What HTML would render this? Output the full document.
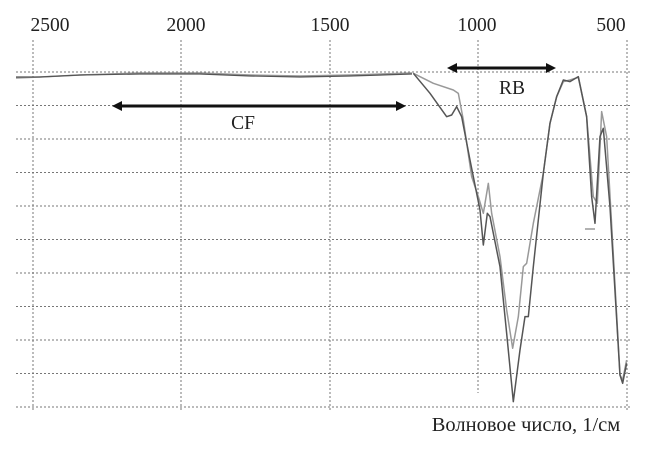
<!DOCTYPE html>
<html><head><meta charset="utf-8"><style>
body{margin:0;background:#fff}
svg text{font-family:"Liberation Serif",serif;fill:#222}
</style></head><body>
<svg width="656" height="452" viewBox="0 0 656 452" xmlns="http://www.w3.org/2000/svg">
<g stroke="#777" stroke-width="1" stroke-dasharray="2,2" fill="none">
<line x1="16" y1="72" x2="630" y2="72"/>
<line x1="16" y1="105.5" x2="630" y2="105.5"/>
<line x1="16" y1="139" x2="630" y2="139"/>
<line x1="16" y1="172.5" x2="630" y2="172.5"/>
<line x1="16" y1="206" x2="630" y2="206"/>
<line x1="16" y1="239.5" x2="630" y2="239.5"/>
<line x1="16" y1="273" x2="630" y2="273"/>
<line x1="16" y1="306.5" x2="630" y2="306.5"/>
<line x1="16" y1="340" x2="630" y2="340"/>
<line x1="16" y1="373.5" x2="630" y2="373.5"/>
<line x1="16" y1="407" x2="630" y2="407"/>
<line x1="33" y1="40" x2="33" y2="410"/>
<line x1="181" y1="40" x2="181" y2="410"/>
<line x1="330" y1="40" x2="330" y2="410"/>
<line x1="478" y1="40" x2="478" y2="393"/>
<line x1="627" y1="40" x2="627" y2="410"/>
</g>
<g font-size="19.5" text-anchor="middle">
<text x="50" y="31">2500</text>
<text x="186" y="31">2000</text>
<text x="330" y="31">1500</text>
<text x="477" y="31">1000</text>
<text x="611" y="31">500</text>
<text x="243" y="129">CF</text>
<text x="512" y="94">RB</text>
<text x="526" y="431" font-size="20.5">Волновое число, 1/см</text>
</g>
<path d="M16,78 L40,77 L80,75 L140,73 L200,73 L250,75 L300,76 L350,75 L412,73" stroke="#999" stroke-width="1.5" fill="none"/>
<path d="M16,77 L40,77 L80,75 L140,74 L200,74 L250,76 L300,77 L350,76 L412,74" stroke="#555" stroke-width="1.2" fill="none"/>
<g transform="translate(400,50) scale(0.3333)" fill="none" stroke-width="4.5" stroke-linejoin="round">
<path stroke="#999" d="M40,70 L100,100 L160,120 L175,130 L190,210 L215,380 L235,440 L250,490 L265,400 L275,490 L300,620 L320,780 L338,895 L355,800 L370,650 L380,640 L400,520 L430,370 L450,220 L470,140 L490,95 L510,90 L535,82 L560,200 L580,440 L592,460 L605,185 L620,260 L632,470 L660,975 L668,990 L680,930 M555,537 L585,537"/>
<path stroke="#555" d="M40,70 L90,130 L140,200 L155,195 L170,170 L185,200 L210,330 L240,480 L250,585 L262,490 L270,500 L300,650 L320,850 L340,1055 L360,900 L375,800 L385,800 L400,650 L430,370 L450,220 L470,140 L490,90 L510,95 L535,80 L560,200 L575,440 L585,520 L600,260 L610,235 L630,470 L660,975 L668,1000 L680,940"/>
</g>
<g fill="#111" stroke="#111" stroke-width="3">
<line x1="120" y1="106" x2="398" y2="106"/>
<line x1="455" y1="68" x2="548" y2="68"/>
</g>
<g fill="#111">
<polygon points="112,106 122,101 122,111"/>
<polygon points="406,106 396,101 396,111"/>
<polygon points="447,68 457,63 457,73"/>
<polygon points="556,68 546,63 546,73"/>
</g>
</svg>
</body></html>
